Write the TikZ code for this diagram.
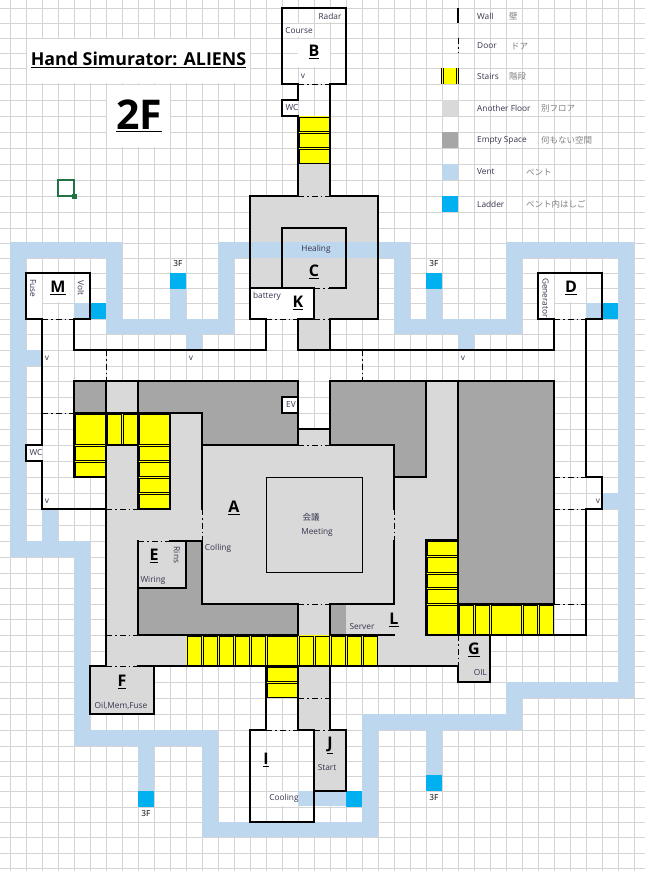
\documentclass[tikz,border=0pt]{standalone}
\usepackage{fontspec}
\setmainfont{Open Sans}
\newfontfamily\jpfont{Noto Sans CJK JP}

\definecolor{gridgray}{HTML}{D4D4D4}
\definecolor{ventblue}{HTML}{BDD7EE}
\definecolor{ladderblue}{HTML}{00B0F0}
\definecolor{otherfloor}{HTML}{D9D9D9}
\definecolor{emptyfloor}{HTML}{A6A6A6}
\definecolor{cellgreen}{HTML}{217346}
\definecolor{stairyellow}{HTML}{FFFF00}
\definecolor{textdark}{HTML}{33334D}

\tikzset{
  wall/.style={line width=2.3pt, line cap=rect, black},
  thinwall/.style={line width=1pt, black},
  doorway/.style={line width=1pt, black, dash pattern=on 6pt off 3pt on 1.5pt off 3pt},
  stairbox/.style={fill=stairyellow, draw=black, line width=0.7pt},
  tag/.style={font=\fontsize{8.3}{9}\selectfont, text=textdark, inner sep=0pt},
  roomtag/.style={font=\fontsize{16}{18}\selectfont\bfseries, inner sep=0pt},
  legendtag/.style={font=\fontsize{8.3}{9}\selectfont, text=textdark, inner sep=0pt, anchor=west},
  legendjp/.style={font=\fontsize{8.5}{9}\jpfont, text=black!50, inner sep=0pt, anchor=west},
}

% one stair cell, drawn a little inside its cell
\newcommand{\stairstep}[4]{\fill[stairyellow] (#1,#2) rectangle (#3,#4);
  \draw[stairbox] (#1+1,#2+1) rectangle (#3-1,#4-1);}

\begin{document}
\begin{tikzpicture}[x=1pt,y=-1pt]
\useasboundingbox (0,0) rectangle (645,871);
\fill[white] (0,0) rectangle (645,871);

% sheet grid
\foreach \gx in {10,26,...,634} \draw[gridgray, line width=1pt] (\gx,0) -- (\gx,871);
\foreach \gy in {8,23,38,53,68,84,100,116,132,148,164,180,196,212,228,243,258,273,288,303,319,334,350,366,381,397,413,429,445,461,477,493,509,525,541,557,573,588,604,619,635,651,666,682,698,714,730,746,761,776,791,807,822,837,853,868}
  \draw[gridgray, line width=1pt] (0,\gy) -- (645,\gy);

% merged cells, no grid in them
\foreach \xa/\ya/\xb/\yb in {27/39/250/83, 107/85/170/147, 298/39/330/67, 283/24/314/37, 315/9/346/22,
  27/274/42/318, 43/274/74/302, 75/274/90/302, 251/289/282/302, 283/289/314/318, 539/274/554/318, 555/274/586/302,
  267/792/298/806}
  \fill[white] (\xa,\ya) rectangle (\xb,\yb);

% other floor
\fill[otherfloor] (298,164) -- (330,164) -- (330,196) -- (378,196) -- (378,319) -- (330,319) -- (330,350) -- (298,350) -- (298,319) -- (250,319) -- (250,196) -- (298,196) -- cycle;
\fill[white] (250,288) rectangle (314,319);
\fill[otherfloor] (106,381) rectangle (138,413);
\fill[otherfloor] (298,429) rectangle (330,445);
\fill[otherfloor] (426,381) rectangle (458,540);
\fill[otherfloor] (170,413) -- (202,413) -- (202,445) -- (394,445) -- (394,477) -- (426,477) -- (426,635) -- (490,635) -- (490,682) -- (458,682) -- (458,666) -- (106,666) -- (106,445) -- (138,445) -- (138,509) -- (170,509) -- cycle;
\fill[otherfloor] (298,666) rectangle (330,730);
\fill[otherfloor] (314,730) rectangle (346,791);
\fill[otherfloor] (90,666) rectangle (154,714);

% empty space
\fill[emptyfloor] (74,381) rectangle (106,413);
\fill[emptyfloor] (138,381) -- (298,381) -- (298,445) -- (202,445) -- (202,413) -- (138,413) -- cycle;
\fill[emptyfloor] (330,381) -- (426,381) -- (426,477) -- (394,477) -- (394,445) -- (330,445) -- cycle;
\fill[emptyfloor] (458,381) rectangle (554,604);
\fill[emptyfloor] (138,588) -- (186,588) -- (186,541) -- (202,541) -- (202,604) -- (298,604) -- (298,635) -- (138,635) -- cycle;
\fill[emptyfloor] (330,604) rectangle (346,635);
\fill[white] (282,397) rectangle (298,413);

% vent
\foreach \xa/\ya/\xb/\yb in {10/242/122/258, 10/242/26/557, 106/242/122/334, 106/319/234/334, 218/242/234/334,
  218/242/410/258, 394/242/410/334, 394/319/522/334, 506/242/522/334, 506/242/634/258, 618/242/634/698,
  506/682/634/698, 506/682/522/730, 362/714/522/730, 362/714/378/837, 202/822/378/837, 202/730/218/837,
  74/730/218/746, 74/541/90/746, 10/541/90/557,
  74/303/90/319, 170/288/186/319, 186/334/202/350, 26/350/42/366, 42/509/58/541, 426/288/442/319,
  458/334/474/350, 586/303/602/319, 602/493/618/509, 138/746/154/791, 426/730/442/775, 298/791/346/806}
  \fill[ventblue] (\xa,\ya) rectangle (\xb,\yb);

% ladders
\foreach \xa/\ya in {90/303, 170/273, 426/273, 602/303, 138/791, 426/775, 346/791}
  \fill[ladderblue] (\xa,\ya) rectangle (\xa+16,\ya+16);

% stairs
\foreach \ya/\yb in {116/132, 132/148, 148/164} {\stairstep{298}{\ya}{330}{\yb}}
\stairstep{74}{413}{106}{445}
\stairstep{74}{445}{106}{461}
\stairstep{74}{461}{106}{477}
\stairstep{106}{413}{122}{445}
\stairstep{122}{413}{138}{445}
\stairstep{138}{413}{170}{445}
\foreach \ya/\yb in {445/461, 461/477, 477/493, 493/509} {\stairstep{138}{\ya}{170}{\yb}}
\foreach \xa in {186,202,...,250} {\stairstep{\xa}{635}{\xa+16}{666}}
\stairstep{266}{635}{298}{666}
\foreach \xa in {298,314,...,362} {\stairstep{\xa}{635}{\xa+16}{666}}
\stairstep{266}{666}{298}{682}
\stairstep{266}{682}{298}{698}
\foreach \ya/\yb in {540/556, 556/573, 573/588, 588/604} {\stairstep{426}{\ya}{458}{\yb}}
\stairstep{426}{604}{458}{635}
\foreach \xa/\xb in {458/474, 474/490, 490/522, 522/538, 538/554} {\stairstep{\xa}{604}{\xb}{635}}

% walls
\draw[thinwall, fill=otherfloor] (266,477) rectangle (362,572);
\draw[wall] (298,100) -- (282,100) -- (282,116) -- (298,116) -- (298,196) -- (250,196) -- (250,319) -- (266,319) -- (266,350) -- (74,350) -- (74,319) -- (90,319) -- (90,273) -- (26,273) -- (26,319) -- (42,319) -- (42,445) -- (26,445) -- (26,461) -- (42,461) -- (42,509) -- (106,509);
\draw[wall] (298,100) -- (298,84) -- (282,84) -- (282,8) -- (346,8) -- (346,84) -- (330,84) -- (330,196) -- (378,196) -- (378,319) -- (330,319) -- (330,350) -- (554,350) -- (554,319) -- (538,319) -- (538,273) -- (602,273) -- (602,319) -- (586,319) -- (586,477) -- (602,477) -- (602,509) -- (586,509) -- (586,635) -- (426,635) -- (426,540);
\draw[wall] (298,319) -- (298,350) -- (330,350);
\draw[wall] (330,288) -- (346,288) -- (346,228) -- (282,228) -- (282,288);
\draw[wall] (250,288) -- (314,288) -- (314,319) -- (298,319);
\draw[wall] (74,381) -- (298,381) -- (298,429) -- (330,429);
\draw[wall] (330,381) -- (554,381) -- (554,604);
\draw[wall] (330,381) -- (330,445) -- (394,445) -- (394,477) -- (426,477) -- (426,381);
\draw[wall] (74,381) -- (74,477) -- (106,477);
\draw[wall] (106,381) -- (106,666);
\draw[wall] (138,381) -- (138,413);
\draw[wall] (74,413) -- (202,413) -- (202,509);
\draw[wall] (170,413) -- (170,509) -- (138,509) -- (138,413);
\draw[wall] (106,445) -- (138,445);
\draw[wall] (202,541) -- (202,604) -- (298,604) -- (298,635);
\draw[wall] (202,445) -- (298,445) -- (298,429);
\draw[wall] (330,604) -- (394,604) -- (394,541);
\draw[wall] (394,509) -- (394,477);
\draw[wall] (458,381) -- (458,635);
\draw[wall] (426,540) -- (458,540);
\draw[wall] (458,604) -- (554,604);
\draw[wall] (394,635) -- (330,635) -- (330,604);
\draw[wall] (170,541) -- (202,541);
\draw[wall] (186,541) -- (186,588) -- (138,588) -- (138,635) -- (298,635);
\draw[wall] (138,541) -- (138,588);
\draw[wall] (138,666) -- (458,666) -- (458,682) -- (490,682) -- (490,635);
\draw[wall] (106,666) -- (90,666) -- (90,714) -- (154,714) -- (154,666) -- (138,666);
\draw[wall] (266,666) -- (266,730) -- (250,730) -- (250,822) -- (314,822) -- (314,730) -- (298,730) -- (298,666);
\draw[wall] (330,666) -- (330,730) -- (346,730) -- (346,791) -- (314,791);
\draw[wall] (298,397) -- (282,397) -- (282,413) -- (298,413);

% doors
\foreach \xa/\ya/\xb/\yb in {298/84/330/84, 298/196/330/196, 314/288/330/288, 314/319/330/319, 266/319/298/319,
  42/319/74/319, 554/319/586/319, 106/350/106/381, 362/350/362/381, 42/413/74/413, 298/445/330/445,
  202/509/202/541, 394/509/394/541, 554/477/586/477, 554/509/586/509, 554/604/586/604, 106/509/138/509,
  138/541/170/541, 106/635/138/635, 106/666/138/666, 298/604/330/604, 458/635/458/666, 298/698/330/698,
  266/730/298/730, 314/730/330/730}
  \draw[doorway] (\xa,\ya) -- (\xb,\yb);

% cell cursor
\draw[cellgreen, line width=1.5pt] (58,180) rectangle (74,196);
\fill[cellgreen] (72,194) rectangle (77,199);

% title
\node[inner sep=0pt] (titlename) at (138.5,60) {\fontsize{17.8}{19}\selectfont\bfseries\underline{Hand Simurator: ALIENS}};
\node[inner sep=0pt] (titlefloor) at (139,116) {\fontsize{41}{43}\selectfont\bfseries\underline{2F}};

% room letters
\foreach \rname/\rx/\ry in {B/314/52, C/314/272, K/298/303, M/58/288, D/571/288, A/234/508, E/154/556, F/122/682, G/474/650, I/266/760, J/330/745, L/394/620}
  \node[roomtag] (room\rname) at (\rx,\ry) {\underline{\rname}};

% room texts
\node[tag] (radar) at (330,16) {Radar};
\node[tag] (course) at (299,30.5) {Course};
\node[tag] (wcup) at (292,108) {WC};
\node[tag] (healing) at (316,249.5) {Healing};
\node[tag] (battery) at (267,296) {battery};
\node[tag, rotate=-90] (fuse) at (33,288) {Fuse};
\node[tag, rotate=-90] (volt) at (81,288) {Volt};
\node[tag, rotate=-90] (generator) at (545.5,298) {Generator};
\node[tag] (wcleft) at (36,453) {WC};
\node[tag] (ev) at (291,405) {EV};
\node[tag] (colling) at (218,548) {Colling};
\node[tag, rotate=-90] (rins) at (177,555) {Rins};
\node[tag] (wiring) at (153,580) {Wiring};
\node[tag] (oilmem) at (121,706) {Oil,Mem,Fuse};
\node[tag] (oil) at (480.5,673) {OIL};
\node[tag] (server) at (362,627) {Server};
\node[tag] (cooling) at (284,798) {Cooling};
\node[tag] (start) at (327,768) {Start};
\node[tag, font=\fontsize{8.5}{9}\jpfont] (meetjp) at (311,517) {会議};
\node[tag] (meeting) at (317,532) {Meeting};

% hatches
\node[tag] (hatchb) at (303,76) {v};
\node[tag] (hatchm) at (47,358) {v};
\node[tag] (hatchc) at (191,358) {v};
\node[tag] (hatchd) at (463,358) {v};
\node[tag] (hatchw) at (47,501) {v};
\node[tag] (hatchr) at (598,501) {v};

% ladder targets
\foreach \tname/\tx/\ty in {a/178/264, b/434/264, c/146/814, d/434/798}
  \node[tag, text=black] (floor\tname) at (\tx,\ty) {3F};

% legend
\draw[wall, line cap=butt] (458,8) -- (458,23);
\draw[doorway] (458,38) -- (458,53);
\fill[stairyellow] (442,68) rectangle (458,84);
\draw[black, line width=0.8pt] (441.5,68) -- (441.5,84) (443.5,68) -- (443.5,84) (456.5,68) -- (456.5,84) (458.5,68) -- (458.5,84);
\fill[otherfloor] (442,100) rectangle (458,116);
\fill[emptyfloor] (442,132) rectangle (458,148);
\fill[ventblue] (442,164) rectangle (458,180);
\fill[ladderblue] (442,196) rectangle (458,212);
\node[legendtag] (lwall) at (477,16) {Wall};
\node[legendtag] (ldoor) at (477,46) {Door};
\node[legendtag] (lstairs) at (477,76) {Stairs};
\node[legendtag] (lfloor) at (477,108) {Another Floor};
\node[legendtag] (lempty) at (477,140) {Empty Space};
\node[legendtag] (lvent) at (477,172) {Vent};
\node[legendtag] (lladder) at (477,204) {Ladder};
\node[legendjp] (jwall) at (509,16) {壁};
\node[legendjp] (jdoor) at (511,46) {ドア};
\node[legendjp] (jstairs) at (509,76) {階段};
\node[legendjp] (jfloor) at (541,108) {別フロア};
\node[legendjp] (jempty) at (541,140) {何もない空間};
\node[legendjp] (jvent) at (526,172) {ベント};
\node[legendjp] (jladder) at (526,204) {ベント内はしご};
\end{tikzpicture}
\end{document}
